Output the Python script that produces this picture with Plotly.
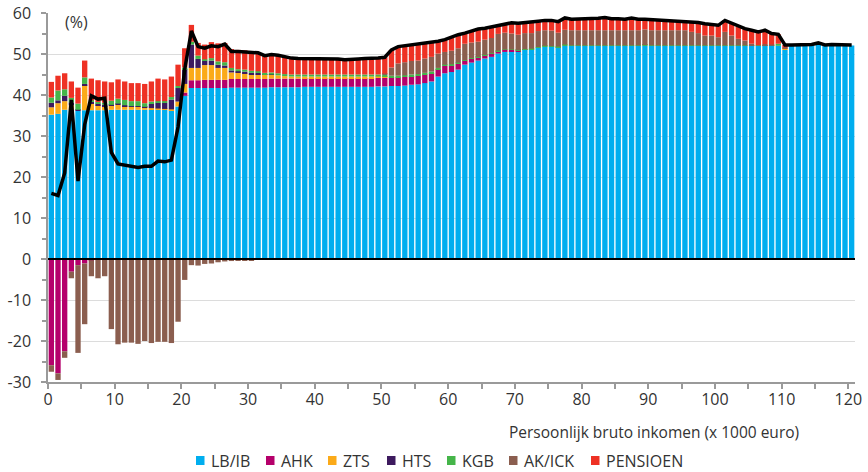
import plotly.graph_objects as go

# Persoonlijk bruto inkomen (x 1000 euro), bars 0..120
inkomen = list(range(121))

lb_ib = [35.2, 35.4, 36.4, 36.3, 36.1, 36.3, 36.3, 36.3, 36.3, 36.4,
         36.4, 36.4, 36.4, 36.4, 36.4, 36.4, 36.4, 36.4, 36.3, 37.2,
         39.8, 41.7, 41.7, 41.7, 41.7, 41.7, 41.7, 41.8, 41.8, 41.8,
         41.8, 41.8, 41.8, 41.9, 41.9, 41.9, 41.9, 41.9, 42.0, 42.0,
         42.0, 42.0, 42.0, 42.0, 42.0, 42.0, 42.0, 42.0, 42.0, 42.1,
         42.1, 42.2, 42.2, 42.3, 42.5, 42.6, 42.9, 43.3, 44.5, 45.3,
         45.6, 46.2, 47.4, 47.9, 48.4, 48.9, 49.3, 50.1, 50.5, 50.6,
         50.6, 51.0, 51.2, 51.6, 51.8, 51.8, 51.7, 52.0, 52.0, 52.0,
         52.0, 52.0, 52.0, 52.0, 52.0, 52.0, 52.0, 52.0, 52.0, 52.0,
         52.0, 52.0, 52.0, 52.0, 52.0, 52.0, 52.0, 52.0, 52.0, 52.0,
         52.0, 52.0, 52.0, 52.0, 52.0, 52.0, 52.0, 52.0, 52.0, 52.0,
         51.0, 52.1, 52.1, 52.1, 52.2, 52.6, 52.1, 52.2, 52.2, 52.1,
         52.1]

ahk = [-25.9, -27.9, -22.5, -3.1, -1.5, -1.1, -0.3, 0, 0, 0,
       0, 0, 0, 0, 0, 0, 0, 0, 0, 0,
       0.8, 1.9, 1.9, 2.0, 2.0, 2.0, 2.0, 2.1, 2.1, 2.1,
       2.1, 2.1, 2.1, 2.1, 2.1, 2.1, 2.1, 2.1, 2.1, 2.1,
       2.1, 2.1, 2.1, 2.1, 2.1, 2.1, 2.1, 2.1, 2.1, 2.1,
       2.1, 2.1, 2.1, 2.1, 2.1, 2.1, 2.1, 2.0, 1.8, 1.8,
       1.6, 1.4, 1.0, 1.0, 0.8, 0.8, 0.8, 0.6, 0.5, 0.4,
       0.2, 0.1, 0, 0, 0, 0, 0, 0, 0, 0,
       0, 0, 0, 0, 0, 0, 0, 0, 0, 0,
       0, 0, 0, 0, 0, 0, 0, 0, 0, 0,
       0, 0, 0, 0, 0, 0, 0, 0, 0, 0,
       0, 0, 0, 0, 0, 0, 0, 0, 0, 0,
       0]

zts = [1.8, 2.6, 2.1, 1.2, 0, 6.1, 1.6, 1.2, 1.0, 1.0,
       1.2, 0.9, 0.8, 0.8, 0.6, 0.4, 0.3, 0.2, 0.2, 1.2,
       2.1, 3.0, 3.0, 3.6, 3.6, 2.9, 2.9, 1.6, 1.6, 1.4,
       1.1, 1.1, 1.0, 0.9, 0.8, 0.6, 0.5, 0.5, 0.4, 0.4,
       0.4, 0.4, 0.4, 0.4, 0.4, 0.4, 0.4, 0.4, 0.4, 0.3,
       0.2, 0, 0, 0, 0, 0, 0, 0, 0, 0,
       0, 0, 0, 0, 0, 0, 0, 0, 0, 0,
       0, 0, 0, 0, 0, 0, 0, 0, 0, 0,
       0, 0, 0, 0, 0, 0, 0, 0, 0, 0,
       0, 0, 0, 0, 0, 0, 0, 0, 0, 0,
       0, 0, 0, 0, 0, 0, 0, 0, 0, 0,
       0.3, 0, 0, 0, 0, 0, 0, 0, 0, 0,
       0]

hts = [1.1, 0.7, 1.3, 0.7, 0.3, 0.3, 0.4, 0.4, 0.3, 0.2,
       0.3, 0.2, 0.1, 0.1, 0.1, 1.0, 1.4, 1.5, 2.4, 3.3,
       3.6, 5.7, 2.2, 1.1, 1.1, 0.8, 0.6, 0.5, 0.3, 0.4,
       0.4, 0.4, 0.1, 0.1, 0, 0, 0, 0, 0, 0,
       0, 0, 0, 0, 0, 0, 0, 0, 0, 0,
       0, 0, 0, 0, 0, 0, 0, 0, 0, 0,
       0, 0, 0, 0, 0, 0, 0, 0, 0, 0,
       0, 0, 0, 0, 0, 0, 0, 0, 0, 0,
       0, 0, 0, 0, 0, 0, 0, 0, 0, 0,
       0, 0, 0, 0, 0, 0, 0, 0, 0, 0,
       0, 0, 0, 0, 0, 0, 0, 0, 0, 0,
       0, 0, 0, 0, 0, 0, 0, 0, 0, 0,
       0]

kgb = [1.3, 2.4, 1.6, 1.1, 1.5, 1.6, 0.4, 0.4, 0.5, 1.0,
       1.2, 1.3, 1.2, 1.2, 0.9, 0.6, 0.4, 0.4, 0.6, 0.5,
       0.4, 0.7, 0.8, 0.3, 0.6, 0.8, 0.8, 0.6, 0.5, 0.5,
       0.5, 0.4, 0.4, 0.5, 0.5, 0.5, 0.5, 0.5, 0.5, 0.5,
       0.5, 0.5, 0.5, 0.5, 0.5, 0.5, 0.5, 0.5, 0.5, 0.5,
       0.5, 0.4, 0.4, 0.4, 0.4, 0.4, 0.4, 0.4, 0.3, 0.3,
       0.3, 0.3, 0.1, 0.1, 0.1, 0.1, 0.1, 0.1, 0.1, 0.1,
       0.2, 0.1, 0.1, 0.1, 0.2, 0.1, 0.1, 0.3, 0.1, 0.1,
       0.1, 0.1, 0.1, 0.1, 0.1, 0.1, 0.1, 0.1, 0.1, 0.2,
       0.1, 0.1, 0.1, 0.1, 0.1, 0.1, 0.1, 0.1, 0.1, 0.1,
       0.1, 0.1, 0.1, 0.1, 0.1, 0.1, 0.1, 0.1, 0.1, 0.5,
       0, 0, 0, 0, 0, 0, 0, 0, 0, 0,
       0]

ak_ick = [-1.6, -1.6, -1.6, -1.6, -21.4, -14.8, -3.9, -4.7, -4.2, -17.1,
          -20.8, -20.4, -20.4, -20.7, -20.0, -20.5, -20.2, -20.2, -20.5, -15.3,
          -5.1, -1.5, -1.6, -1.2, -1.1, -0.8, -0.6, -0.5, -0.4, -0.4,
          -0.3, -0.2, -0.1, 0, 0, 0, 0, 0, 0, 0,
          0, 0, 0, 0, 0, 0, 0, 0, 0, 0,
          0.3, 2.0, 3.0, 3.2, 3.3, 3.3, 3.5, 3.6, 3.5, 3.1,
          3.3, 3.5, 4.0, 3.8, 3.7, 3.7, 3.7, 4.1, 4.1, 3.9,
          3.7, 3.9, 3.8, 3.9, 3.8, 3.8, 3.4, 3.6, 3.7, 3.7,
          3.7, 3.7, 3.7, 3.7, 3.7, 3.7, 3.7, 3.7, 3.7, 3.8,
          3.7, 3.7, 3.7, 3.7, 3.7, 3.7, 3.3, 3.0, 2.4, 2.4,
          2.0, 3.3, 2.4, 1.6, 1.2, 0.4, 0, 0.3, 0.2, 0,
          0.3, 0, 0, 0, 0, 0, 0, 0, 0, 0,
          0]

pensioen = [3.8, 3.6, 3.9, 4.0, 3.9, 4.1, 5.3, 5.3, 5.2, 4.5,
            4.7, 4.5, 4.4, 4.4, 4.7, 4.9, 5.5, 5.3, 5.0, 5.2,
            4.7, 4.1, 3.1, 3.6, 3.9, 4.4, 4.7, 4.6, 4.7, 4.7,
            4.6, 4.5, 4.3, 4.5, 4.4, 4.3, 4.0, 3.9, 3.8, 3.8,
            3.8, 3.8, 3.8, 3.8, 3.7, 3.7, 3.8, 3.8, 3.8, 3.8,
            4.0, 4.3, 4.1, 4.0, 4.0, 4.1, 3.8, 3.5, 3.0, 3.0,
            3.4, 3.3, 2.6, 2.9, 3.1, 2.8, 2.7, 2.2, 2.2, 2.6,
            2.8, 2.5, 2.7, 2.4, 2.4, 2.5, 2.7, 2.9, 2.7, 2.7,
            2.8, 2.7, 2.9, 3.1, 2.8, 2.8, 2.7, 3.0, 2.7, 2.5,
            2.6, 2.6, 2.6, 2.5, 2.4, 2.2, 2.4, 2.6, 2.9, 2.7,
            2.9, 2.8, 3.0, 3.0, 2.9, 3.3, 3.3, 3.4, 2.7, 2.3,
            0.6, 0, 0, 0, 0, 0, 0, 0, 0, 0,
            0]

# Net marginal pressure (black line)
netto = [16.0, 15.5, 21.0, 38.8, 19.0, 32.8, 39.8, 39.0, 39.2, 26.0,
         23.2, 22.9, 22.5, 22.3, 22.6, 22.6, 23.9, 23.7, 24.1, 32.2,
         46.3, 55.6, 51.8, 51.4, 52.0, 51.8, 52.4, 50.6, 50.6, 50.5,
         50.3, 50.3, 49.6, 49.9, 49.7, 49.3, 49.0, 48.9, 48.9, 48.9,
         48.9, 48.9, 48.9, 48.8, 48.6, 48.6, 48.8, 48.9, 48.9, 49.0,
         49.2, 51.0, 51.8, 52.0, 52.3, 52.5, 52.7, 52.8, 53.1, 53.5,
         54.2, 54.7, 55.1, 55.7, 56.1, 56.3, 56.6, 57.1, 57.4, 57.6,
         57.5, 57.6, 57.8, 58.0, 58.2, 58.2, 57.9, 58.8, 58.5, 58.5,
         58.6, 58.5, 58.7, 58.9, 58.6, 58.6, 58.5, 58.8, 58.5, 58.5,
         58.4, 58.4, 58.4, 58.3, 58.2, 58.0, 57.8, 57.7, 57.4, 57.2,
         57.0, 58.2, 57.5, 56.7, 56.2, 55.8, 55.4, 55.8, 55.0, 54.8,
         52.2, 52.2, 52.2, 52.2, 52.3, 52.7, 52.2, 52.3, 52.3, 52.2,
         52.2]

series_names = ["LB/IB", "AHK", "ZTS", "HTS", "KGB", "AK/ICK", "PENSIOEN"]
series_values = [lb_ib, ahk, zts, hts, kgb, ak_ick, pensioen]
series_colors = ["#00AEEF", "#B5006B", "#FBAA19", "#3D1A5E", "#45B549", "#8B5E4F", "#EE3124"]

y_ticks = [-30, -20, -10, 0, 10, 20, 30, 40, 50, 60]
y_ticktext = ["-30", "-20", "-10", "0", "10", "20", "30", "40", "50", "60"]
x_ticks = [0, 10, 20, 30, 40, 50, 60, 70, 80, 90, 100, 110, 120]

x_mid = [k + 0.5 for k in inkomen]

FONT = "Open Sans, Lato, DejaVu Sans, sans-serif"
TXT = "#333333"
AX = "#9a9a9a"

# Page body margin is removed (post_script), so figure pixels == window pixels
W, H = 868, 472
ML, MR, MT, MB = 48, 13, 13, 90
PW, PH = W - ML - MR, H - MT - MB


def px_x(fx):
    return (fx - ML) / PW


def px_y(fy):
    return (H - MB - fy) / PH


fig = go.Figure()
for name, vals, col in zip(series_names, series_values, series_colors):
    fig.add_trace(go.Bar(x=x_mid, y=vals, name=name, marker_color=col,
                         marker_line_width=0, width=0.8, showlegend=False))

fig.add_trace(go.Scatter(x=x_mid, y=netto, mode="lines", showlegend=False,
                         name="Totaal", line=dict(color="black", width=3.5)))

fig.update_layout(
    width=W, height=H,
    margin=dict(l=ML, r=MR, t=MT, b=MB, autoexpand=False),
    barmode="relative",
    plot_bgcolor="white", paper_bgcolor="white",
    font=dict(family=FONT, size=16, color=TXT),
    xaxis=dict(range=[0, 121], tickvals=x_ticks, ticks="outside", ticklen=5,
               tickcolor=AX, tickwidth=1.5, showline=True, linecolor=AX, linewidth=1.5,
               showgrid=False, zeroline=False, automargin=False, ticklabelstandoff=-3,
               ticklabeloverflow="allow",
               minor=dict(dtick=5, tick0=0, ticks="outside", ticklen=5, tickcolor=AX, tickwidth=1.5),
               tickfont=dict(size=16, color=TXT)),
    yaxis=dict(range=[-30, 60], tickvals=y_ticks, ticktext=y_ticktext, ticks="outside",
               ticklen=5, tickcolor=AX, tickwidth=1.5, showline=True, linecolor=AX, linewidth=1.5,
               showgrid=True, gridcolor="#dcdcdc", gridwidth=1.2, zeroline=False, automargin=False,
               ticklabelstandoff=7, ticklabeloverflow="allow",
               minor=dict(dtick=5, tick0=0, ticks="outside", ticklen=4, tickcolor=AX, tickwidth=1.5),
               tickfont=dict(size=16, color=TXT)),
    showlegend=False,
)

fig.add_shape(type="line", xref="paper", yref="y", x0=0, x1=1, y0=0, y1=0,
              line=dict(color="black", width=2), layer="above")

fig.add_annotation(text="(%)", xref="paper", yref="paper", x=0.019, y=0.976,
                   xanchor="left", yanchor="middle", showarrow=False,
                   font=dict(size=16, color=TXT))
fig.add_annotation(text="Persoonlijk bruto inkomen (x 1000 euro)", xref="paper", yref="paper",
                   x=0.933, y=-0.1355, xanchor="right", yanchor="middle", showarrow=False,
                   font=dict(size=15.5, color=TXT))

# Legend: coloured square + label (window pixel positions)
legend_sq_x = [196, 266, 328, 387, 447, 509, 591]
legend_y = 460.5
for name, col, sx in zip(series_names, series_colors, legend_sq_x):
    fig.add_shape(type="rect", xref="paper", yref="paper",
                  x0=px_x(sx), x1=px_x(sx + 8.5), y0=px_y(legend_y - 4.5), y1=px_y(legend_y + 4.5),
                  fillcolor=col, line_width=0, layer="above")
    fig.add_annotation(text=name, xref="paper", yref="paper", x=px_x(sx + 12.5), y=px_y(legend_y),
                       xanchor="left", yanchor="middle", showarrow=False,
                       font=dict(size=16, color=TXT))

fig.write_html("out.html",
               config={"displayModeBar": False},
               post_script="document.body.style.margin='0';document.body.style.overflow='hidden';")
